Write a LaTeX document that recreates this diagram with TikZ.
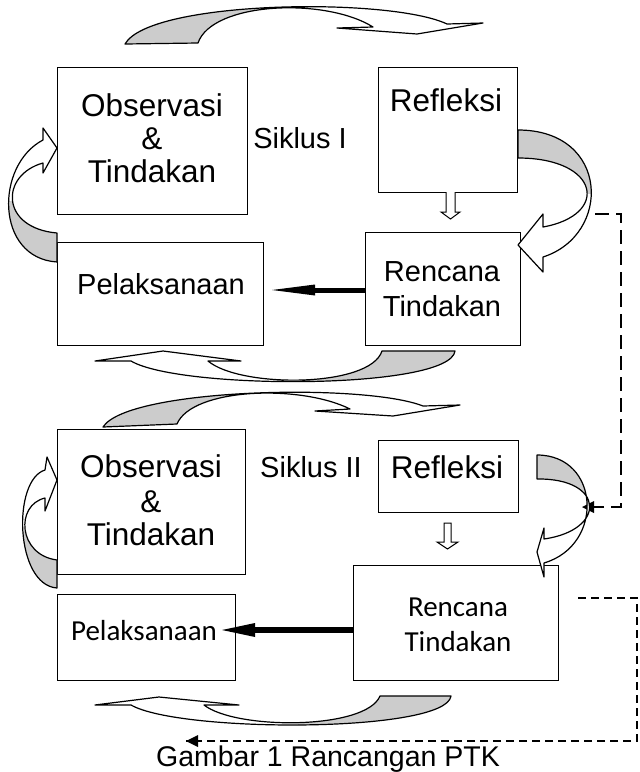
\documentclass[tikz,border=0pt]{standalone}
\usepackage{fontspec}
\setmainfont{Liberation Sans}
\newfontfamily\calib{Carlito}
\usetikzlibrary{arrows.meta}
\definecolor{bandgray}{HTML}{CCCCCC}
\begin{document}
\begin{tikzpicture}[x=1pt,y=-1pt,
  box/.style={draw, line width=1.3pt, anchor=north west, inner sep=0pt},
  lbl/.style={font=\fontsize{29}{32}\selectfont, inner sep=0pt, anchor=base},
  biglbl/.style={font=\fontsize{31.5}{34}\selectfont, inner sep=0pt, anchor=base},
  clbl/.style={font=\calib\fontsize{29}{32}\selectfont, inner sep=0pt, anchor=base},
  band/.style={line width=1.2pt, line join=round},
  hollow/.style={line width=1pt, fill=white},
  thick arrow/.style={line width=5pt},
  dashlink/.style={line width=1.5pt, dash pattern=on 14pt off 7pt},
  dashlinkb/.style={line width=1.3pt, dash pattern=on 8pt off 5pt}]
\useasboundingbox (0,0) rectangle (640,772);

% ---------- Siklus I ----------
\node[box, minimum width=190pt, minimum height=147pt] (obs1) at (57,67) {};
\node[box, minimum width=139pt, minimum height=125pt] (ref1) at (378,67) {};
\node[box, minimum width=155pt, minimum height=113pt] (ren1) at (365,232) {};
\node[box, minimum width=206pt, minimum height=103pt] (pel1) at (57,242) {};

\node[biglbl] (o1a) at (152,116) {Observasi};
\node[biglbl] (o1b) at (152,149) {\&};
\node[biglbl] (o1c) at (152,182) {Tindakan};
\node[lbl] (s1) at (300,148) {Siklus I};
\node[biglbl] (r1) at (446,111) {Refleksi};
\node[lbl] (rc1a) at (442,281) {Rencana};
\node[lbl] (rc1b) at (442,316) {Tindakan};
\node[lbl] (p1) at (161,294) {Pelaksanaan};

% top curved arrow I
\def\pathA{(125,44) .. controls (150,0) and (390,-3) .. (447,24) -- (483,23) -- (417,34) -- (337,28) -- (373,27) .. controls (325,-3) and (212,2) .. (198,43) -- cycle}
\fill[white] \pathA;
\begin{scope}\clip (0,0) rectangle (285,60); \fill[bandgray] \pathA; \end{scope}
\draw[band] \pathA;

% right curved arrow I
\def\pathB{(518,130) .. controls (610,130) and (612,235) .. (543,257) -- (543,272) -- (518,245) -- (543,214) -- (543,227) .. controls (610,215) and (600,158) .. (518,158) -- cycle}
\fill[white] \pathB;
\begin{scope}\clip (510,120) rectangle (620,193); \fill[bandgray] \pathB; \end{scope}
\draw[band] \pathB;

% left curved arrow I
\def\pathC{(57,262) .. controls (-5,258) and (-5,165) .. (43,140) -- (43,128) -- (57,148) -- (43,173) -- (43,163) .. controls (0,175) and (0,228) .. (57,233) -- cycle}
\fill[white] \pathC;
\begin{scope}\clip (0,201) rectangle (60,270); \fill[bandgray] \pathC; \end{scope}
\draw[band] \pathC;

% bottom curved arrow I
\def\pathD{(455,351) .. controls (450,390) and (180,390) .. (131,361) -- (95,361) -- (163,351) -- (241,361) -- (208,361) .. controls (240,388) and (370,388) .. (382,351) -- cycle}
\fill[white] \pathD;
\begin{scope}\clip (300,340) rectangle (470,400); \fill[bandgray] \pathD; \end{scope}
\draw[band] \pathD;

% hollow down arrow I
\draw[hollow] (446,192) -- (446,212) -- (441,212) -- (450.5,219) -- (460,212) -- (455,212) -- (455,192);

% thick arrow I
\coordinate (p1tip) at (272,290);
\coordinate (p1head) at (315,290);
\draw[thick arrow] (ren1.west |- p1head) -- (p1head);
\fill (315,284.5) -- (p1tip) -- (315,295.5) -- cycle;

% dashed link I
\coordinate (d1a) at (595,214);
\coordinate (d1b) at (621,214);
\coordinate (d1c) at (621,507);
\coordinate (d1d) at (588,507);
\draw[dashlink] (d1a) -- (d1b) -- (d1c) -- (d1d);
\fill (d1d) ++(-6,0) -- ++(12,-6) -- ++(0,12) -- cycle;

% ---------- Siklus II ----------
\node[box, minimum width=188pt, minimum height=145pt] (obs2) at (57,429) {};
\node[box, minimum width=140pt, minimum height=72pt] (ref2) at (378,440) {};
\node[box, minimum width=205pt, minimum height=115pt] (ren2) at (353,565) {};
\node[box, minimum width=178pt, minimum height=86pt] (pel2) at (57,594) {};

\node[biglbl] (o2a) at (151,477) {Observasi};
\node[biglbl] (o2b) at (151,512) {\&};
\node[biglbl] (o2c) at (151,545) {Tindakan};
\node[lbl] (s2) at (311,477) {Siklus II};
\node[biglbl] (r2) at (447,478) {Refleksi};
\node[clbl] (rc2a) at (458,616) {Rencana};
\node[clbl] (rc2b) at (458,651) {Tindakan};
\node[clbl] (p2) at (144,640) {Pelaksanaan};

% top curved arrow II
\def\pathE{(103,427) .. controls (128,388) and (365,383) .. (423,406) -- (460,405) -- (393,416) -- (315,411) -- (350,409) .. controls (300,384) and (192,388) .. (177,424) -- cycle}
\fill[white] \pathE;
\begin{scope}\clip (90,380) rectangle (262,440); \fill[bandgray] \pathE; \end{scope}
\draw[band] \pathE;

% right curved arrow II
\def\pathF{(537,455) .. controls (600,455) and (605,545) .. (544,563) -- (544,577) -- (537,552) -- (544,528) -- (544,539) .. controls (607,530) and (605,478) .. (537,479) -- cycle}
\fill[white] \pathF;
\begin{scope}\clip (530,445) rectangle (620,505); \fill[bandgray] \pathF; \end{scope}
\draw[band] \pathF;

% left curved arrow II
\def\pathG{(57,588) .. controls (15,585) and (12,480) .. (45,470) -- (47,457) -- (57,480) -- (45,511) -- (45,498) .. controls (15,505) and (18,555) .. (57,560) -- cycle}
\fill[white] \pathG;
\begin{scope}\clip (0,531) rectangle (60,600); \fill[bandgray] \pathG; \end{scope}
\draw[band] \pathG;

% bottom curved arrow II
\def\pathH{(451,696) .. controls (446,733) and (180,733) .. (131,705) -- (95,705) -- (159,697) -- (239,705) -- (204,705) .. controls (236,730) and (366,730) .. (380,696) -- cycle}
\fill[white] \pathH;
\begin{scope}\clip (298,685) rectangle (470,740); \fill[bandgray] \pathH; \end{scope}
\draw[band] \pathH;

% hollow down arrow II
\draw[hollow] (444,523) -- (444,542) -- (437,542) -- (447.5,549) -- (458,542) -- (451,542) -- (451,523) -- cycle;

% thick arrow II
\coordinate (p2tip) at (222,630);
\coordinate (p2head) at (255,630);
\draw[line width=6pt] (ren2.west |- p2head) -- (p2head);
\fill (255,623) -- (p2tip) -- (255,637) -- cycle;

% dashed link II
\coordinate (d2a) at (578,598);
\coordinate (d2b) at (637,598);
\coordinate (d2c) at (637,741);
\coordinate (d2d) at (186,741);
\draw[dashlinkb] (d2a) -- (d2b) -- (d2c) -- (d2d);
\fill (d2d) -- ++(12,-6) -- ++(0,12) -- cycle;

\node[font=\fontsize{28.5}{32}\selectfont, inner sep=0pt, anchor=base] (cap) at (328,766) {Gambar 1 Rancangan PTK};
\end{tikzpicture}
\end{document}
